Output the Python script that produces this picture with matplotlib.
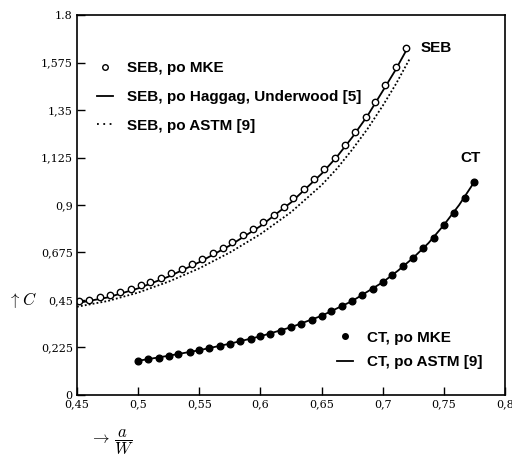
import matplotlib.pyplot as plt
from matplotlib.lines import Line2D

# SEB, finite element results (open circles)
seb_x = [0.452, 0.460, 0.469, 0.477, 0.485, 0.494, 0.502, 0.510, 0.519, 0.527, 0.536,
         0.544, 0.552, 0.561, 0.569, 0.577, 0.586, 0.594, 0.602, 0.611, 0.619, 0.627,
         0.636, 0.644, 0.652, 0.661, 0.669, 0.677, 0.686, 0.694, 0.702, 0.711, 0.719]
seb_c = [0.443, 0.452, 0.462, 0.474, 0.488, 0.503, 0.519, 0.536, 0.555, 0.576, 0.598,
         0.621, 0.645, 0.671, 0.698, 0.726, 0.756, 0.787, 0.819, 0.854, 0.891, 0.931,
         0.975, 1.021, 1.071, 1.125, 1.183, 1.247, 1.315, 1.388, 1.468, 1.555, 1.645]

# SEB, Haggag & Underwood (solid)
hag_x = [0.45, 0.475, 0.5, 0.525, 0.55, 0.575, 0.6, 0.625, 0.65, 0.6625, 0.675,
         0.6875, 0.7, 0.71, 0.72]
hag_c = [0.435, 0.462, 0.505, 0.561, 0.629, 0.708, 0.800, 0.912, 1.048, 1.128, 1.220,
         1.322, 1.440, 1.535, 1.640]

# SEB, ASTM (dotted)
astm_seb_x = [0.45, 0.475, 0.5, 0.525, 0.55, 0.575, 0.6, 0.625, 0.65, 0.6625, 0.675,
              0.6875, 0.7, 0.711, 0.722]
astm_seb_c = [0.418, 0.445, 0.485, 0.537, 0.600, 0.675, 0.762, 0.866, 0.994, 1.072, 1.162,
              1.260, 1.370, 1.475, 1.592]

# CT, finite element results (filled dots)
ct_x = [0.500, 0.508, 0.517, 0.525, 0.533, 0.542, 0.550, 0.558, 0.567, 0.575, 0.583,
        0.592, 0.600, 0.608, 0.617, 0.625, 0.633, 0.642, 0.650, 0.658, 0.667, 0.675,
        0.683, 0.692, 0.700, 0.708, 0.717, 0.725, 0.733, 0.742, 0.750, 0.758, 0.767, 0.775]
ct_c = [0.162, 0.169, 0.177, 0.186, 0.195, 0.204, 0.212, 0.221, 0.232, 0.243, 0.254,
        0.266, 0.278, 0.291, 0.305, 0.321, 0.337, 0.355, 0.375, 0.397, 0.420, 0.445,
        0.473, 0.502, 0.534, 0.570, 0.609, 0.650, 0.697, 0.745, 0.805, 0.862, 0.933, 1.010]

# CT, ASTM (solid)
astm_ct_x = [0.5, 0.525, 0.55, 0.575, 0.6, 0.625, 0.65, 0.675, 0.7, 0.7125, 0.725,
             0.7375, 0.75, 0.7625, 0.775]
astm_ct_c = [0.162, 0.186, 0.212, 0.243, 0.278, 0.321, 0.375, 0.445, 0.534, 0.589, 0.650,
             0.720, 0.805, 0.900, 1.010]

x_ticks = [0.45, 0.5, 0.55, 0.6, 0.65, 0.7, 0.75, 0.8]
x_labels = ['0,45', '0,5', '0,55', '0,6', '0,65', '0,7', '0,75', '0,8']
y_ticks = [0, 0.225, 0.45, 0.675, 0.9, 1.125, 1.35, 1.575, 1.8]
y_labels = ['0', '0,225', '0,45', '0,675', '0,9', '1,125', '1,35', '1,575', '1.8']

plt.rcParams['mathtext.fontset'] = 'cm'

fig = plt.figure(figsize=(5.12, 4.58), dpi=100)
ax = fig.add_axes([0.1504, 0.1376, 0.8359, 0.8296])

ax.plot(hag_x, hag_c, color='black', lw=1.3)
ax.plot(astm_seb_x, astm_seb_c, color='black', lw=1.3, ls=(0, (1, 1.2)))
ax.plot(seb_x, seb_c, 'o', ms=4.6, mfc='white', mec='black', mew=1.0)
ax.plot(astm_ct_x, astm_ct_c, color='black', lw=1.3)
ax.plot(ct_x, ct_c, 'o', ms=4.8, color='black')

ax.set_xlim(0.45, 0.8)
ax.set_ylim(0, 1.8)
ax.set_xticks(x_ticks)
ax.set_xticklabels(x_labels)
ax.set_yticks(y_ticks)
ax.set_yticklabels(y_labels)
ax.tick_params(direction='in', length=6, width=1.0, pad=3, labelsize=8)
for lab in ax.get_xticklabels() + ax.get_yticklabels():
    lab.set_family('DejaVu Serif')
for sp in ax.spines.values():
    sp.set_linewidth(1.2)

leg_font = {'family': 'Liberation Sans', 'weight': 'bold', 'size': 11}

seb_handles = [
    Line2D([], [], ls='none', marker='o', ms=4, mfc='white', mec='black', mew=1.0),
    Line2D([], [], color='black', lw=1.3),
    Line2D([], [], color='black', lw=1.3, ls=(0, (1, 2.5))),
]
seb_labels = ['SEB, po MKE', 'SEB, po Haggag, Underwood [5]', 'SEB, po ASTM [9]']
leg1 = ax.legend(seb_handles, seb_labels, loc='upper left', bbox_to_anchor=(0.047, 0.878),
                 frameon=False, prop=leg_font, handlelength=1.05, handletextpad=0.9,
                 labelspacing=0.96, borderpad=0, borderaxespad=0)
ax.add_artist(leg1)

ct_handles = [
    Line2D([], [], ls='none', marker='o', ms=4, color='black'),
    Line2D([], [], color='black', lw=1.3),
]
ct_labels = ['CT, po MKE', 'CT, po ASTM [9]']
ax.legend(ct_handles, ct_labels, loc='upper left', bbox_to_anchor=(0.607, 0.169),
          frameon=False, prop=leg_font, handlelength=1.05, handletextpad=0.9,
          labelspacing=0.7, borderpad=0, borderaxespad=0)

ax.text(0.731, 1.644, 'SEB', family='Liberation Sans', weight='bold', fontsize=11,
        ha='left', va='center')
ax.text(0.772, 1.123, 'CT', family='Liberation Sans', weight='bold', fontsize=11,
        ha='center', va='center')

fig.text(8 / 512, 1 - 300 / 458, r'$\uparrow C$', fontsize=12, ha='left', va='center')
fig.text(90 / 512, 1 - 442 / 458, r'$\rightarrow\,\dfrac{a}{W}$', fontsize=12,
         ha='left', va='center')

fig.savefig('out.png', dpi=100)
